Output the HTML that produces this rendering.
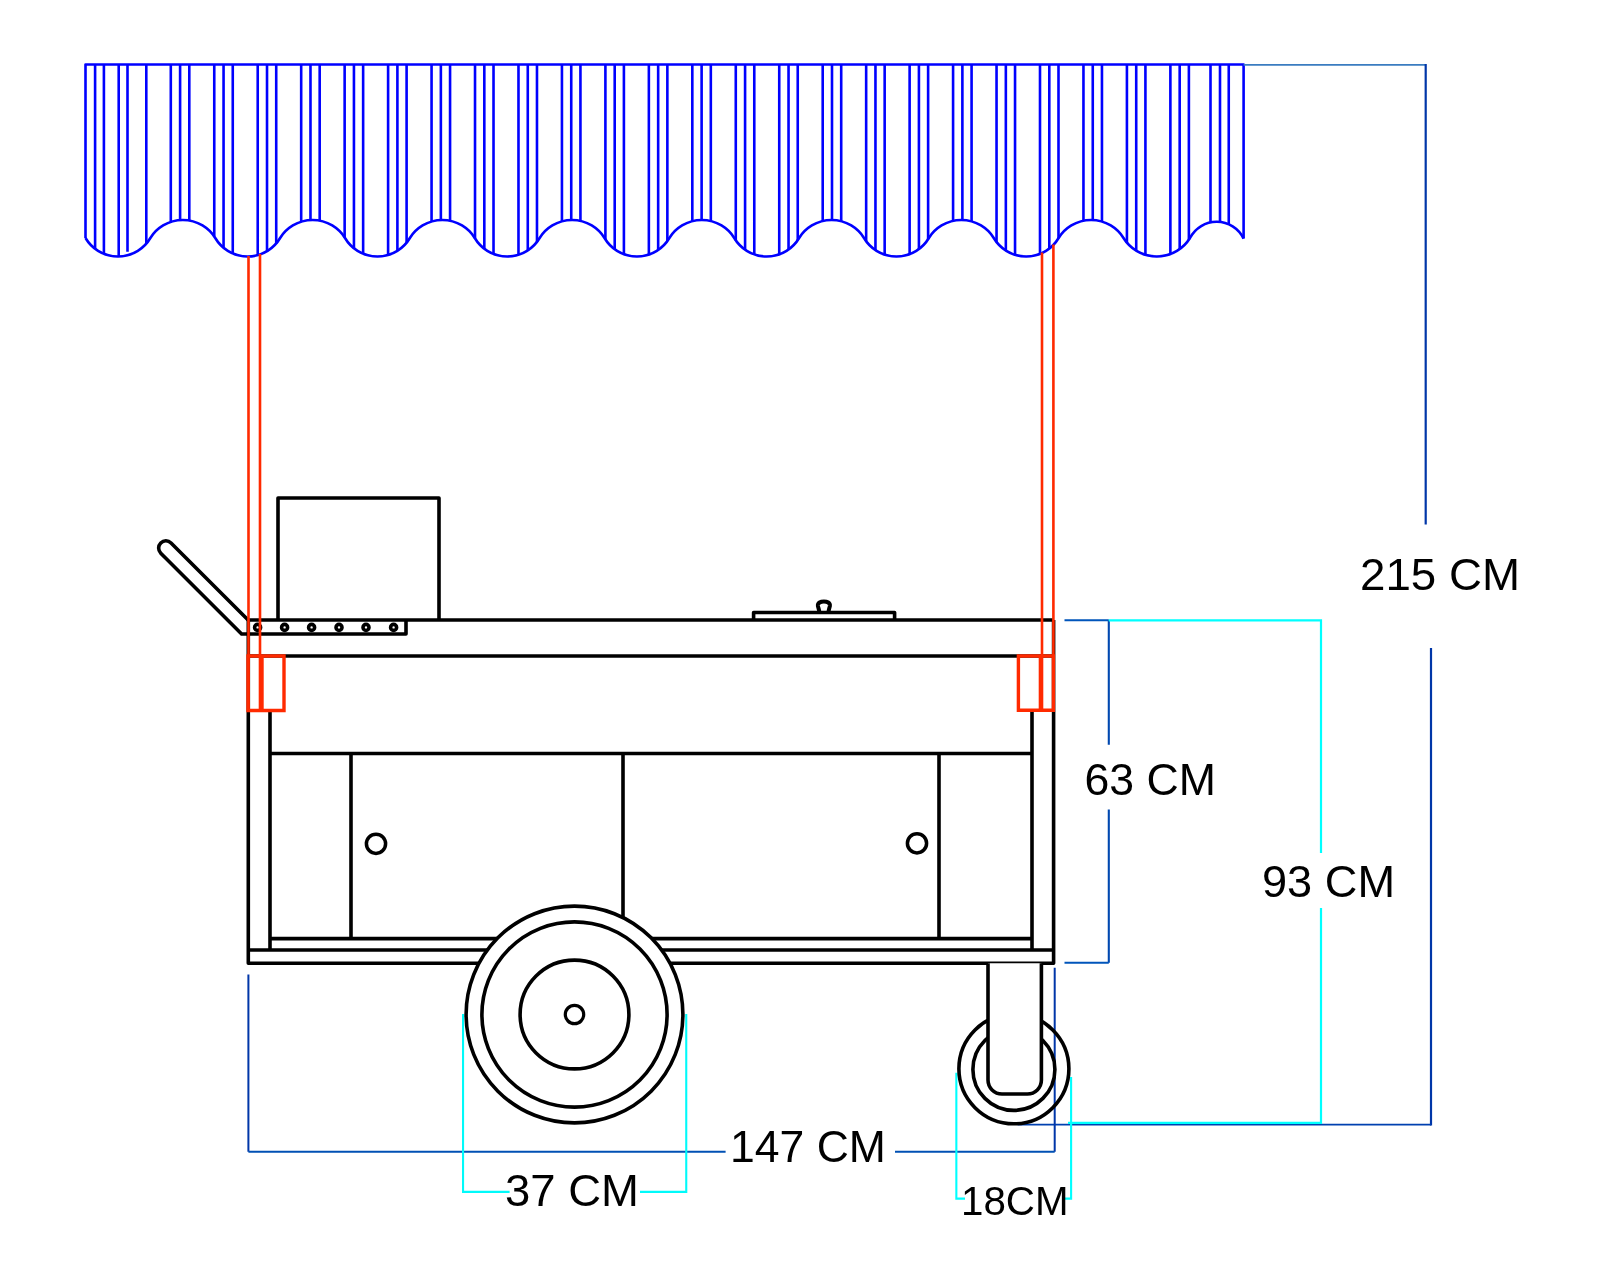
<!DOCTYPE html>
<html><head><meta charset="utf-8">
<style>
html,body{margin:0;padding:0;background:#fff;}
body{width:1600px;height:1280px;overflow:hidden;}
svg{display:block;will-change:transform;}
text{font-family:"Liberation Sans",sans-serif;fill:#000;}
</style></head><body>
<svg width="1600" height="1280" viewBox="0 0 1600 1280">
<rect width="1600" height="1280" fill="#fff"/>
<!-- awning -->
<path d="M85.5,238.0 L85.5,64.5 L1243.6,64.5 L1243.6,238.6 " fill="none" stroke="#0000ff" stroke-width="2.6" stroke-linejoin="round"/>
<path d="M85.5,238.0 A37.69,37.69 0 0 0 150.38,238.0 A38.23,38.23 0 0 1 215.25,238.0 A37.69,37.69 0 0 0 280.12,238.0 A38.23,38.23 0 0 1 345.00,238.0 A37.69,37.69 0 0 0 409.88,238.0 A38.23,38.23 0 0 1 474.75,238.0 A37.69,37.69 0 0 0 539.62,238.0 A38.23,38.23 0 0 1 604.50,238.0 A37.69,37.69 0 0 0 669.38,238.0 A38.23,38.23 0 0 1 734.25,238.0 A37.69,37.69 0 0 0 799.12,238.0 A38.23,38.23 0 0 1 864.00,238.0 A37.69,37.69 0 0 0 928.88,238.0 A38.23,38.23 0 0 1 993.75,238.0 A37.69,37.69 0 0 0 1058.62,238.0 A38.23,38.23 0 0 1 1123.50,238.0 A39.13,39.13 0 0 0 1190.00,238.0 A30.01,30.01 0 0 1 1243.60,238.6 " fill="none" stroke="#0000ff" stroke-width="2.6"/>
<path d="M95.10,64.5V248.79M103.90,64.5V253.79M118.70,64.5V256.49M127.50,64.5V251.70M146.30,64.5V243.63M170.80,64.5V221.94M180.10,64.5V220.10M189.30,64.5V220.55M214.26,64.5V236.49M223.56,64.5V247.76M232.76,64.5V253.42M257.72,64.5V255.14M267.02,64.5V251.16M276.22,64.5V243.43M301.18,64.5V221.73M310.48,64.5V220.06M319.68,64.5V220.67M344.64,64.5V237.43M353.94,64.5V248.28M363.14,64.5V253.68M388.10,64.5V254.96M397.40,64.5V250.78M406.60,64.5V242.69M431.56,64.5V221.54M440.86,64.5V220.03M450.06,64.5V220.79M475.02,64.5V238.45M484.32,64.5V248.77M493.52,64.5V253.93M518.48,64.5V254.77M527.78,64.5V250.38M536.98,64.5V241.89M561.94,64.5V221.36M571.24,64.5V220.01M580.44,64.5V220.93M605.40,64.5V239.45M614.70,64.5V249.24M623.90,64.5V254.17M648.86,64.5V254.56M658.16,64.5V249.96M667.36,64.5V241.06M692.32,64.5V221.20M701.62,64.5V220.00M710.82,64.5V221.08M735.78,64.5V240.38M745.08,64.5V249.69M754.28,64.5V254.40M779.24,64.5V254.35M788.54,64.5V249.52M797.74,64.5V240.17M822.70,64.5V221.04M832.00,64.5V220.00M841.20,64.5V221.23M866.16,64.5V241.25M875.46,64.5V250.12M884.66,64.5V254.61M909.62,64.5V254.12M918.92,64.5V249.06M928.12,64.5V239.22M953.08,64.5V220.90M962.38,64.5V220.01M971.58,64.5V221.40M996.54,64.5V242.08M1005.84,64.5V250.54M1015.04,64.5V254.81M1040.00,64.5V253.88M1049.30,64.5V248.58M1058.50,64.5V238.21M1083.46,64.5V220.76M1092.76,64.5V220.04M1101.96,64.5V221.59M1126.92,64.5V242.69M1136.22,64.5V250.68M1145.42,64.5V254.82M1170.38,64.5V254.05M1179.68,64.5V249.08M1188.88,64.5V239.70M1210.50,64.5V222.17M1220.00,64.5V221.67M1228.75,64.5V223.98" fill="none" stroke="#0000ff" stroke-width="2.6"/>
<!-- dimension lines -->
<g fill="none" stroke-linecap="butt">
 <path d="M1243.6,64.9H1425.7" stroke="#3a7cc0" stroke-width="1.6"/>
 <path d="M1425.7,64V524.6M1431,648V1125.4" stroke="#0036a8" stroke-width="2.2"/>
 <path d="M1431,1124.6H1017.5" stroke="#0040b0" stroke-width="1.7"/>
 <path d="M1108.8,620.2V744.7M1108.8,809.6V962.7" stroke="#0048b0" stroke-width="2.1"/>
 <path d="M1064.5,620.2H1108.8M1108.8,962.7H1064.5" stroke="#0055bb" stroke-width="2"/>
 <path d="M248.4,974.6V1151.85M1054.7,1151.85V967.7" stroke="#0036a8" stroke-width="2"/>
 <path d="M248.4,1151.85H725.6M895,1151.85H1054.7" stroke="#0050b4" stroke-width="2"/>
 <path d="M1108.8,620.4H1321V853M1321,908V1122.8H1068" stroke="#00ffff" stroke-width="2.2"/>
 <path d="M463.05,1014V1191.85H509.6M640,1191.85H686.25V1014" stroke="#00fafa" stroke-width="2.1"/>
 <path d="M956.35,1072.8V1198.65H965M1064.2,1198.65H1071.1V1077" stroke="#00ffff" stroke-width="2.1"/>
</g>
<!-- cart -->
<g fill="none" stroke="#000" stroke-width="3.6" stroke-linejoin="round">
 <path d="M278,620V498H439V620"/>
 <path d="M248.1,620L171.03,542.92A7.25,7.25 0 0 0 160.77,553.18L241.6,634H406V620"/>
 <path d="M247,620H1054"/>
 <path d="M248.3,620V963.3H1053.6V620"/>
 <path d="M248.3,656H1053.6"/>
 <path d="M270,711V950M1032,711V950"/>
 <path d="M270,753.5H1032"/>
 <path d="M351,753.5V938.6M623,753.5V938.6M939,753.5V938.6"/>
 <path d="M270,938.6H1032M248.3,950H1053.6"/>
 <path d="M753.6,620V612.5H894.6V620"/>
 <path d="M819.3,612.5C819.3,610 818.3,608 817.9,605.8C817.6,602.9 820.5,601.4 823.9,601.4C827.3,601.4 830.2,602.9 829.9,605.8C829.5,608 828.5,610 828.5,612.5" stroke-width="4"/>
</g>
<g fill="none" stroke="#000" stroke-width="3.6">
 <circle cx="257.6" cy="627.4" r="3.0"/><circle cx="284.6" cy="627.4" r="3.0"/><circle cx="311.6" cy="627.4" r="3.0"/>
 <circle cx="339" cy="627.4" r="3.0"/><circle cx="366" cy="627.4" r="3.0"/><circle cx="393.6" cy="627.4" r="3.0"/>
</g>
<g fill="none" stroke="#000" stroke-width="3.5">
 <circle cx="376" cy="843.8" r="9.6"/><circle cx="917" cy="843.3" r="9.6"/>
</g>
<!-- big wheel -->
<g stroke="#000" stroke-width="3.6">
 <circle cx="574.5" cy="1014.5" r="108.4" fill="#fff"/>
 <circle cx="574.5" cy="1014.5" r="92.6" fill="none"/>
 <circle cx="574.5" cy="1014.5" r="54.4" fill="none"/>
 <circle cx="574.5" cy="1014.5" r="9.2" fill="none" stroke-width="3.2"/>
</g>
<!-- caster -->
<g stroke="#000" stroke-width="3.6">
 <circle cx="1013.9" cy="1068.8" r="55" fill="none"/>
 <circle cx="1013.9" cy="1069.4" r="41" fill="none"/>
 <path d="M988,963.3V1080A14,14 0 0 0 1002,1094H1027.4A14,14 0 0 0 1041.4,1080V963.3" fill="#fff"/>
</g>
<!-- red poles -->
<g fill="none" stroke="#ff2a00">
 <path d="M248.5,255.99V711M260,253.93V711M1042,252.52V711M1053.4,244.39V711" stroke-width="2.6"/>
 <path d="M248,656H284V710.5H248ZM262,656V710.5" stroke-width="3.4"/>
 <path d="M1018.4,656H1053.4V710.3H1018.4ZM1040.4,656V710.3" stroke-width="3.4"/>
</g>
<!-- texts -->
<g>
 <text x="1360" y="589.5" font-size="44" textLength="160" lengthAdjust="spacingAndGlyphs">215 CM</text>
 <text x="1084.5" y="794.8" font-size="45" textLength="131.5" lengthAdjust="spacingAndGlyphs">63 CM</text>
 <text x="1262" y="896.5" font-size="44" textLength="133" lengthAdjust="spacingAndGlyphs">93 CM</text>
 <text x="730" y="1161.5" font-size="44" textLength="155.9" lengthAdjust="spacingAndGlyphs">147 CM</text>
 <text x="505" y="1205.5" font-size="45" textLength="134" lengthAdjust="spacingAndGlyphs">37 CM</text>
 <text x="961" y="1214.5" font-size="41" textLength="107.6" lengthAdjust="spacingAndGlyphs">18CM</text>
</g>
</svg>
</body></html>
